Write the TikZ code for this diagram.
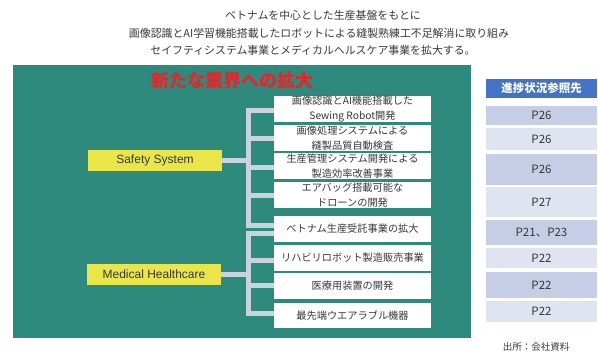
\documentclass[tikz,border=0pt]{standalone}
\usepackage{fontspec}
\usetikzlibrary{backgrounds}
\setmainfont{Noto Sans CJK JP}
\newfontfamily\latinsans{Liberation Sans}
\definecolor{teal1}{HTML}{2E8A7C}
\definecolor{yel}{HTML}{EAE64A}
\definecolor{cdark}{HTML}{C5CEE4}
\definecolor{clight}{HTML}{DFE4F0}
\definecolor{hdr}{HTML}{4472C4}
\definecolor{redt}{HTML}{E8242B}
\definecolor{conncol}{HTML}{C9D3DD}
\definecolor{txt}{HTML}{383838}
\tikzset{
  wbox/.style={fill=white, minimum width=157pt, minimum height=26pt, inner sep=0pt, align=center, text=txt, font=\fontsize{10.2}{14.5}\selectfont},
  ybox/.style={fill=yel, minimum width=134pt, minimum height=21pt, inner sep=0pt, text=txt, font=\latinsans\fontsize{12}{13}\selectfont},
  conn/.style={draw=conncol, line width=5pt, line cap=rect, line join=miter},
  cell/.style={minimum width=111pt, inner sep=0pt, text=txt, font=\fontsize{11.5}{13}\selectfont},
  titleline/.style={text=txt, font=\fontsize{10.9}{12}\selectfont, inner sep=0pt}
}
\begin{document}
\begin{tikzpicture}[x=1pt,y=-1pt]
\useasboundingbox (0,0) rectangle (598,359);
% top title
\node[titleline] (t1) at (323,15) {ベトナムを中心とした生産基盤をもとに};
\node[titleline] (t2) at (319,33) {画像認識とAI学習機能搭載したロボットによる縫製熟練工不足解消に取り組み};
\node[titleline] (t3) at (313,50) {セイフティシステム事業とメディカルヘルスケア事業を拡大する。};
\node[text=redt, font=\bfseries\fontsize{18}{20}\selectfont, inner sep=0pt] (rt) at (232,81) {新たな業界への拡大};
% yellow boxes
\node[ybox] (sf) at (155,160.5) {Safety System};
\node[ybox] (md) at (154,274.5) {Medical Healthcare};
% white boxes
\coordinate (bs) at (248.5,0);
\node[wbox] (b1) at (352.5,109) {画像認識とAI機能搭載した\\Sewing Robot開発};
\node[wbox] (b2) at (352.5,138) {画像処理システムによる\\縫製品質自動検査};
\node[wbox] (b3) at (352.5,166) {生産管理システム開発による\\製造効率改善事業};
\node[wbox] (b4) at (352.5,195) {エアバッグ搭載可能な\\ドローンの開発};
\node[wbox] (b5) at (352.5,229) {ベトナム生産受託事業の拡大};
\node[wbox] (b6) at (352.5,258) {リハビリロボット製造販売事業};
\node[wbox] (b7) at (352.5,286) {医療用装置の開発};
\node[wbox, minimum height=25pt] (b8) at (352.5,315.5) {最先端ウエアラブル機器};
% panel and connectors behind
\begin{scope}[on background layer]
\fill[teal1] (13,65) rectangle (471,338);
\draw[conn] (sf.east) -- (sf.east -| bs);
\draw[conn] ([yshift=-1pt]b1.west) -- ([yshift=-1pt]b1.west -| bs) -- ([yshift=3.5pt]b5.west -| bs) -- ([yshift=3.5pt]b5.west);
\draw[conn] (b2.west) -- (b2.west -| bs);
\draw[conn] ([yshift=-1pt]b3.west) -- ([yshift=-1pt]b3.west -| bs);
\draw[conn] (b4.west) -- (b4.west -| bs);
\draw[conn] (md.east) -- (md.east -| bs);
\draw[conn] ([yshift=-4.5pt]b5.west) -- ([yshift=-4.5pt]b5.west -| bs) -- ([yshift=2.5pt]b8.west -| bs) -- ([yshift=2.5pt]b8.west);
\draw[conn] ([yshift=-2pt]b6.west) -- ([yshift=-2pt]b6.west -| bs);
\draw[conn] ([yshift=1pt]b7.west) -- ([yshift=1pt]b7.west -| bs);
\end{scope}
% right table
\node[fill=hdr, minimum width=111pt, minimum height=19pt, inner sep=0pt, text=white, font=\bfseries\fontsize{11.5}{12}\selectfont] (hd) at (541.5,88.5) {進捗状況参照先};
\node[cell, fill=cdark, minimum height=19pt] (c1) at (541.5,115.5) {P26};
\node[cell, fill=clight, minimum height=22pt] (c2) at (541.5,139) {P26};
\node[cell, fill=cdark, minimum height=31pt] (c3) at (541.5,169.5) {P26};
\node[cell, fill=clight, minimum height=30pt] (c4) at (541.5,202) {P27};
\node[cell, fill=cdark, minimum height=25pt] (c5) at (541.5,232.5) {P21、P23};
\node[cell, fill=clight, minimum height=20pt] (c6) at (541.5,258) {P22};
\node[cell, fill=cdark, minimum height=26pt] (c7) at (541.5,285) {P22};
\node[cell, fill=clight, minimum height=21pt] (c8) at (541.5,311.5) {P22};
\node[text=txt, font=\fontsize{9.5}{10}\selectfont, inner sep=0pt] (src) at (536,347) {出所：会社資料};
\end{tikzpicture}
\end{document}
